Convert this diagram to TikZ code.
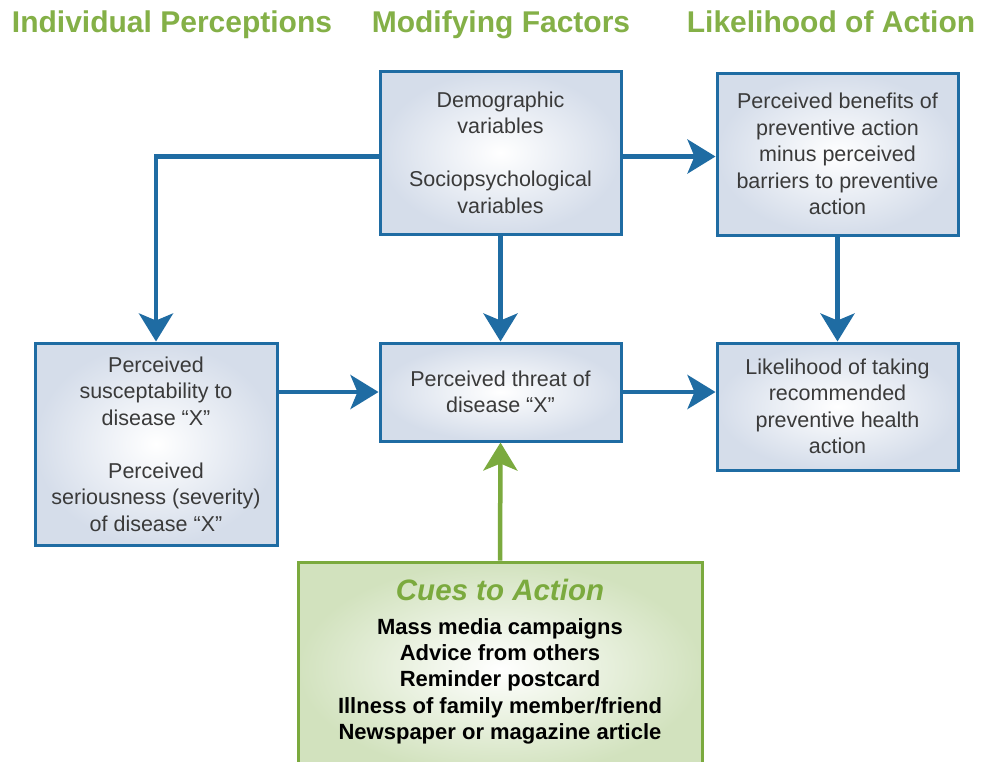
\documentclass[tikz,border=0pt]{standalone}
\usepackage{fontspec}
\setmainfont{Liberation Sans}
\usetikzlibrary{arrows.meta}
\definecolor{bl}{HTML}{1F6CA3}
\definecolor{gr}{HTML}{7BAA3E}
\definecolor{hd}{HTML}{84B047}
\definecolor{txt}{HTML}{3A3A3A}
\definecolor{bfill}{HTML}{D5DDEA}
\definecolor{gfill}{HTML}{D2E2BE}
\begin{document}
\begin{tikzpicture}[x=1pt,y=-1pt,
 box/.style={draw=bl, line width=3pt, inner sep=0pt, minimum width=241pt, inner color=white, outer color=bfill, align=center, font=\fontsize{21.5}{26.5}\selectfont, text=txt},
 arr/.style={draw=bl, line width=4.5pt, -{Stealth[width=34pt,length=28pt,inset=7pt]}},
 garr/.style={draw=gr, line width=4.5pt, -{Stealth[width=34pt,length=28pt,inset=7pt]}},
 head/.style={font=\fontsize{30}{32}\selectfont\bfseries, text=hd, inner sep=0pt, anchor=base},
 cuet/.style={font=\fontsize{22}{26.3}\selectfont\bfseries, text=black, align=center, inner sep=0pt}]
\fill[white] (0,0) rectangle (982,761);
\useasboundingbox (0,0) rectangle (982,761);
\clip (0,0) rectangle (982,761);

\node[head] (h1) at (172,32) {Individual Perceptions};
\node[head] (h2) at (501,32) {Modifying Factors};
\node[head] (h3) at (831,32) {Likelihood of Action};

\node[box, minimum height=163pt] (demo) at (500.5,152.5) {Demographic\\variables\\[26.5pt]Sociopsychological\\variables};
\node[box, minimum width=242pt, minimum height=202pt] (left) at (156,444) {Perceived\\susceptability to\\disease “X”\\[26.5pt]Perceived\\seriousness (severity)\\of disease “X”};
\node[box, minimum height=98pt] (threat) at (500.5,392) {Perceived threat of\\disease “X”};
\node[box, minimum height=162pt] (rt) at (837.5,154) {Perceived benefits of\\preventive action\\minus perceived\\barriers to preventive\\action};
\node[box, minimum height=127pt] (rb) at (837.5,406.5) {Likelihood of taking\\recommended\\preventive health\\action};

\node[draw=gr, line width=3pt, inner sep=0pt, minimum width=404pt, minimum height=213pt, inner color=white, outer color=gfill] (cues) at (500,668.5) {};
\node[font=\fontsize{29.5}{31}\selectfont\bfseries\itshape, text=gr, inner sep=0pt, anchor=base] (cuesT) at (500,600) {Cues to Action};
\node[cuet, anchor=north] (cuesL) at (500,618) {Mass media campaigns\\Advice from others\\Reminder postcard\\Illness of family member/friend\\Newspaper or magazine article};

\draw[arr] ([yshift=-4pt]demo.west) -| (left.north);
\draw[arr] ([yshift=-4pt]demo.east) -- ([yshift=-4pt]demo.east -| rt.west);
\draw[arr] (demo.south) -- (threat.north);
\draw[arr] (rt.south) -- (rb.north);
\draw[arr] (left.east |- threat.west) -- (threat.west);
\draw[arr] (threat.east) -- (threat.east -| rb.west);
\draw[garr] (cues.north) -- (threat.south);
\end{tikzpicture}
\end{document}
